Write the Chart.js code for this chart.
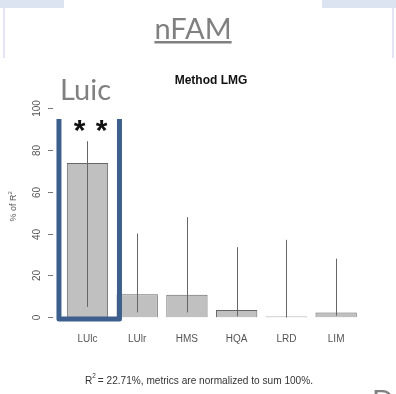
<!DOCTYPE html>
<html>
<head>
<meta charset="utf-8">
<script src="https://cdn.jsdelivr.net/npm/chart.js@4"></script>
<style>
  html, body { margin: 0; padding: 0; background: #fff; }
  #wrap { position: relative; width: 396px; height: 394px; }
</style>
</head>
<body>
<div id="wrap"><canvas id="chart" width="396" height="394"></canvas></div>
<script>
// data
const categories = ['LUlc', 'LUlr', 'HMS', 'HQA', 'LRD', 'LIM'];
const shares = [73.6, 11.0, 10.8, 3.5, 0.4, 2.3];
const lowerCI = [5.0, 2.4, 2.4, 0.5, 0.0, 0.8];
const upperCI = [84.0, 40.0, 47.8, 33.5, 37.0, 28.0];
const yTicks = [0, 20, 40, 60, 80, 100];

const GREY_TXT = '#555';

// slide decorations + R-style y axis, error bars, highlight box
const decor = {
  id: 'decor',
  beforeDraw(chart) {
    const ctx = chart.ctx;
    ctx.save();
    // light blue bands on top of the slide
    ctx.fillStyle = '#dbe4f0';
    ctx.fillRect(0, 0, 64, 8);
    ctx.fillRect(322, 0, 74, 8);
    ctx.fillStyle = '#e4e4f6';
    ctx.fillRect(3, 8, 2, 50);
    ctx.fillRect(392, 8, 2, 50);
    ctx.restore();
  },
  afterDatasetsDraw(chart) {
    const ctx = chart.ctx;
    const x = chart.scales.x;
    const y = chart.scales.y;
    ctx.save();

    // error bars
    ctx.strokeStyle = '#666';
    ctx.lineWidth = 1;
    categories.forEach((c, i) => {
      const px = Math.round(x.getPixelForValue(i)) + 0.5;
      ctx.beginPath();
      ctx.moveTo(px, y.getPixelForValue(lowerCI[i]));
      ctx.lineTo(px, y.getPixelForValue(upperCI[i]));
      ctx.stroke();
    });

    // y axis ticks and labels (R style, rotated)
    const axX = 53;
    ctx.strokeStyle = '#777';
    ctx.fillStyle = GREY_TXT;
    ctx.font = '10px "Liberation Sans", Arial, sans-serif';
    ctx.textAlign = 'center';
    ctx.textBaseline = 'middle';
    yTicks.forEach(v => {
      const py = Math.round(y.getPixelForValue(v)) + 0.5;
      ctx.beginPath();
      ctx.moveTo(axX - 5, py);
      ctx.lineTo(axX, py);
      ctx.stroke();
      ctx.save();
      ctx.translate(37, py);
      ctx.rotate(-Math.PI / 2);
      ctx.fillText(String(v), 0, 0);
      ctx.restore();
    });

    // y axis title
    ctx.save();
    ctx.translate(14, 205);
    ctx.rotate(-Math.PI / 2);
    ctx.font = '9px "Liberation Sans", Arial, sans-serif';
    ctx.textAlign = 'center';
    const t1 = '% of R';
    const w1 = ctx.measureText(t1).width;
    ctx.fillText(t1, -3, 0);
    ctx.font = '6px "Liberation Sans", Arial, sans-serif';
    ctx.textAlign = 'left';
    ctx.fillText('2', -3 + w1 / 2, -4);
    ctx.restore();

    // highlight box round the first bar
    const cx = x.getPixelForValue(0);
    const base = y.getPixelForValue(0);
    ctx.strokeStyle = '#3c5f8e';
    ctx.lineWidth = 5;
    ctx.lineJoin = 'round';
    ctx.beginPath();
    ctx.moveTo(cx - 28.5, 119);
    ctx.lineTo(cx - 28.5, base + 1.5);
    ctx.lineTo(cx + 32, base + 1.5);
    ctx.lineTo(cx + 32, 119);
    ctx.stroke();

    // significance stars, cut at the top
    ctx.save();
    ctx.beginPath();
    ctx.rect(0, 119, 396, 20);
    ctx.clip();
    ctx.fillStyle = '#111';
    ctx.font = 'bold 30px "Liberation Sans", Arial, sans-serif';
    ctx.textAlign = 'center';
    ctx.textBaseline = 'alphabetic';
    ctx.fillText('*', 79.5, 140);
    ctx.fillText('*', 101.5, 140);
    ctx.restore();

    // slide texts
    ctx.fillStyle = '#808080';
    ctx.font = '29px Lato, "Open Sans", sans-serif';
    ctx.textAlign = 'left';
    ctx.textBaseline = 'alphabetic';
    ctx.fillText('Luic', 60, 100);

    ctx.textAlign = 'center';
    ctx.fillText('nFAM', 193, 39);
    const wn = ctx.measureText('nFAM').width;
    ctx.fillRect(193 - wn / 2, 41, wn, 2.5);

    ctx.fillText('D', 383, 411);

    // plot title
    ctx.fillStyle = '#111';
    ctx.font = 'bold 12px "Liberation Sans", Arial, sans-serif';
    ctx.fillText('Method LMG', 211, 84);

    // footnote, squeezed like the original
    ctx.fillStyle = '#333';
    ctx.font = '11px "Liberation Sans", Arial, sans-serif';
    ctx.textAlign = 'left';
    const a = 'R';
    const b = ' = 22.71%, metrics are normalized to sum 100%.';
    const wa = ctx.measureText(a).width;
    const wb = ctx.measureText(b).width;
    const sx = 228 / (wa + wb + 3);
    ctx.save();
    ctx.translate(85, 384);
    ctx.scale(sx, 1);
    ctx.fillText(a, 0, 0);
    ctx.font = '7px "Liberation Sans", Arial, sans-serif';
    ctx.fillText('2', wa, -6);
    ctx.font = '11px "Liberation Sans", Arial, sans-serif';
    ctx.fillText(b, wa + 3, 0);
    ctx.restore();

    ctx.restore();
  }
};

new Chart(document.getElementById('chart'), {
  type: 'bar',
  data: {
    labels: categories,
    datasets: [{
      data: shares,
      backgroundColor: '#c0c0c0',
      borderColor: '#666',
      borderWidth: 1,
      barPercentage: 0.83,
      categoryPercentage: 1
    }]
  },
  options: {
    responsive: false,
    animation: false,
    events: [],
    layout: {
      padding: { left: 62.6, right: 35, top: 107.7, bottom: 32.6 }
    },
    plugins: {
      legend: { display: false },
      tooltip: { enabled: false }
    },
    scales: {
      x: {
        grid: { display: false, drawTicks: false },
        border: { display: false },
        ticks: {
          color: GREY_TXT,
          padding: 16,
          font: { family: '"Liberation Sans", Arial, sans-serif', size: 10 },
          maxRotation: 0
        }
      },
      y: {
        display: false,
        min: 0,
        max: 100
      }
    }
  },
  plugins: [decor]
});
</script>
</body>
</html>
